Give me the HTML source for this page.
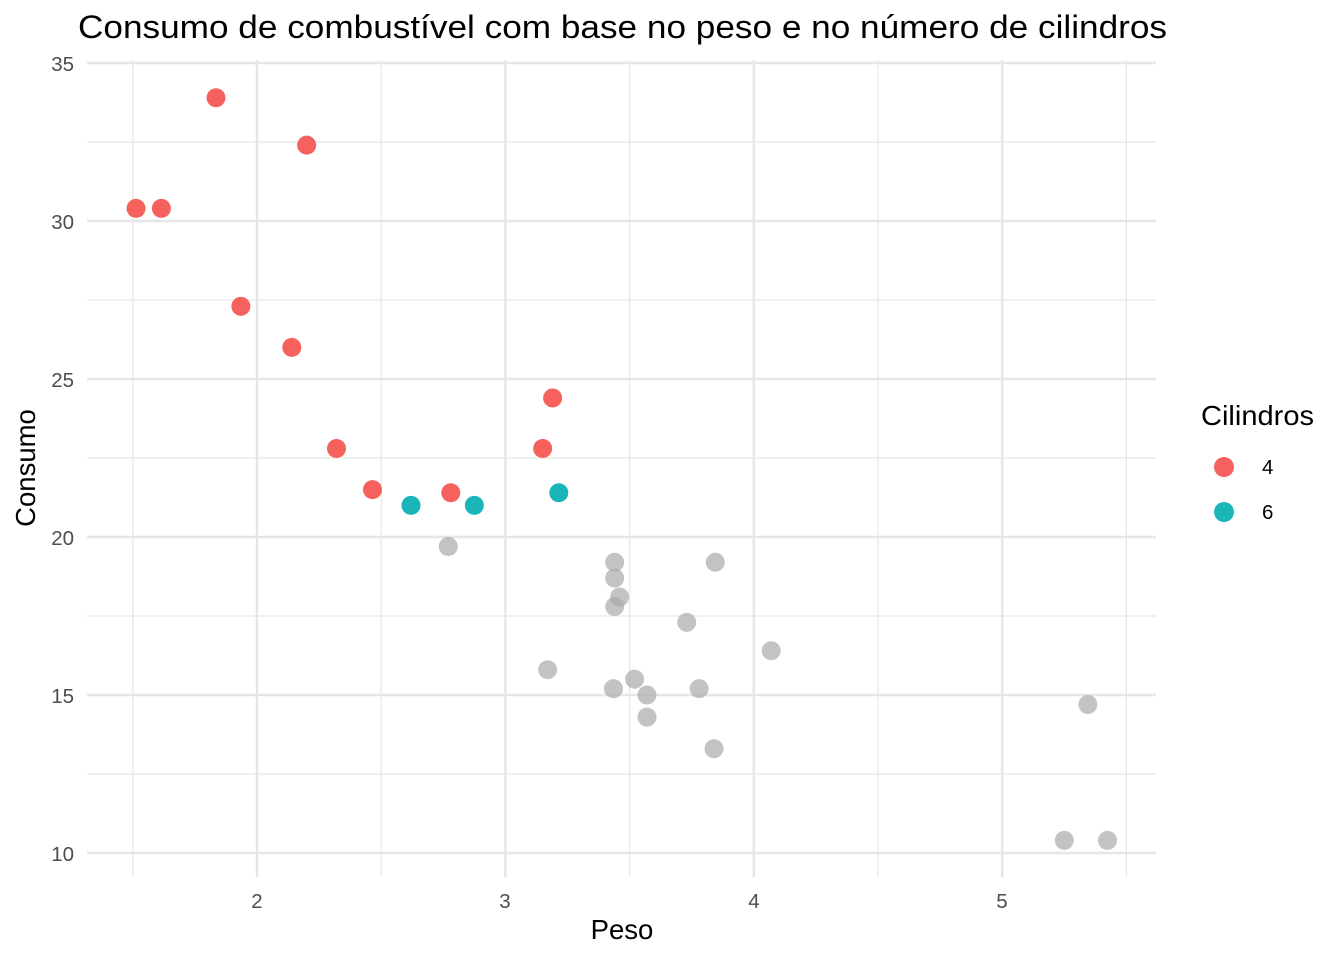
<!DOCTYPE html>
<html><head><meta charset="utf-8"><style>
html,body{margin:0;padding:0;background:#fff}
svg{display:block;font-family:"Liberation Sans",Arial,sans-serif}
</style></head><body>
<svg id="s" width="1344" height="960" viewBox="0 0 1344 960" xmlns="http://www.w3.org/2000/svg">
<rect width="1344" height="960" fill="#fff"/>
<g id="grid"></g>
<g id="pts"></g>
<text x="78" y="38" font-size="32" fill="#000" textLength="1089" lengthAdjust="spacingAndGlyphs">Consumo de combustível com base no peso e no número de cilindros</text>
<g font-size="20.5" fill="#4D4D4D" text-anchor="end">
<text x="74" y="71">35</text><text x="74" y="229">30</text><text x="74" y="387">25</text>
<text x="74" y="545">20</text><text x="74" y="703">15</text><text x="74" y="861">10</text>
</g>
<g font-size="20.5" fill="#4D4D4D" text-anchor="middle">
<text x="257" y="908">2</text><text x="505" y="908">3</text><text x="754" y="908">4</text><text x="1002" y="908">5</text>
</g>
<text x="622" y="939" font-size="27.5" text-anchor="middle" fill="#000">Peso</text>
<text transform="translate(35,468) rotate(-90)" font-size="27.5" text-anchor="middle" fill="#000">Consumo</text>
<text x="1201" y="425" font-size="27.5" fill="#000" textLength="113" lengthAdjust="spacingAndGlyphs">Cilindros</text>
<circle cx="1224" cy="467" r="10" fill="#F5625D"/>
<circle cx="1224" cy="512" r="10" fill="#19B5B9"/>
<text x="1262" y="474" font-size="20.5" fill="#000">4</text>
<text x="1262" y="519" font-size="20.5" fill="#000">6</text>
</svg>
<script>
var NS="http://www.w3.org/2000/svg";
function X(w){return 257+(w-2)*248.4}
function Y(v){return 853-(v-10)*31.6}
var L=87,R=1156,T=60,B=877;
var g=document.getElementById("grid");
function line(x1,y1,x2,y2,w){var l=document.createElementNS(NS,"line");l.setAttribute("x1",x1);l.setAttribute("y1",y1);l.setAttribute("x2",x2);l.setAttribute("y2",y2);l.setAttribute("stroke","#E6E6E6");l.setAttribute("stroke-width",w);g.appendChild(l);}
[1.5,2.5,3.5,4.5,5.5].forEach(function(w){line(X(w),T,X(w),B,1.2)});
[12.5,17.5,22.5,27.5,32.5].forEach(function(v){line(L,Y(v),R,Y(v),1.2)});
[2,3,4,5].forEach(function(w){line(X(w),T,X(w),B,2.4)});
[10,15,20,25,30,35].forEach(function(v){line(L,Y(v),R,Y(v),2.4)});
var grey=[[3.46,18.1],[3.44,19.2],[3.44,17.8],[2.77,19.7],[3.44,18.7],[3.57,14.3],[4.07,16.4],[3.73,17.3],[3.78,15.2],[5.25,10.4],[5.424,10.4],[5.345,14.7],[3.52,15.5],[3.435,15.2],[3.84,13.3],[3.845,19.2],[3.17,15.8],[3.57,15.0]];
var red=[[2.32,22.8],[3.19,24.4],[3.15,22.8],[2.2,32.4],[1.615,30.4],[1.835,33.9],[2.465,21.5],[1.935,27.3],[2.14,26],[1.513,30.4],[2.78,21.4]];
var teal=[[2.62,21],[2.875,21],[3.215,21.4]];
var p=document.getElementById("pts");
function pt(a,c,o){var e=document.createElementNS(NS,"circle");e.setAttribute("cx",X(a[0]));e.setAttribute("cy",Y(a[1]));e.setAttribute("r",9.5);e.setAttribute("fill",c);e.setAttribute("fill-opacity",o);p.appendChild(e);}
grey.forEach(function(a){pt(a,"#A9A9A9",0.7)});
red.forEach(function(a){pt(a,"#F5625D",1)});
teal.forEach(function(a){pt(a,"#19B5B9",1)});
</script>
</body></html>
